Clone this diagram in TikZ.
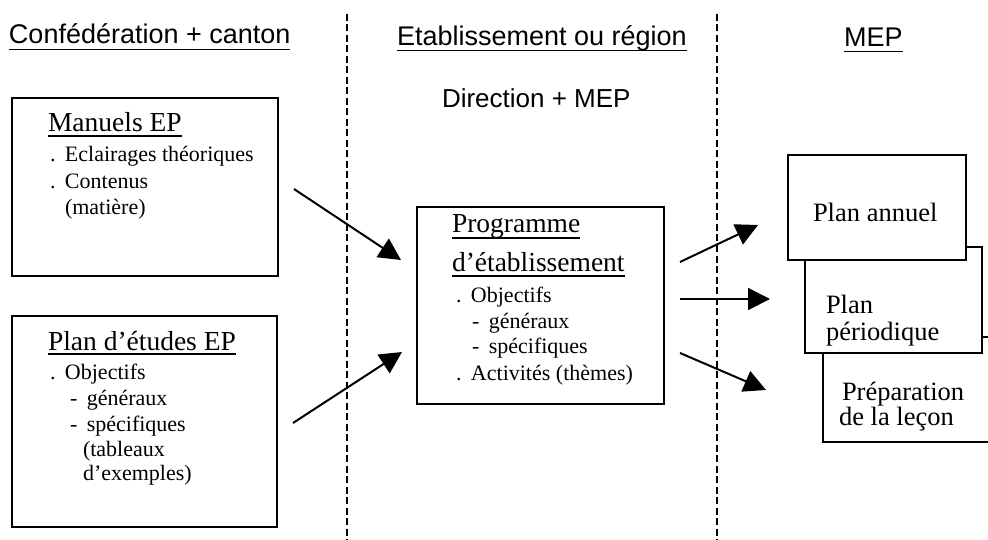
\documentclass[tikz,border=0pt]{standalone}
\usepackage{fontspec}
\setmainfont{Liberation Serif}
\newfontfamily\hsans{Liberation Sans}
\usetikzlibrary{arrows.meta}
\begin{document}
\begin{tikzpicture}[x=1pt,y=-1pt,
  box/.style={draw, line width=1.8pt, fill=white, inner sep=0pt, outer sep=0pt, rectangle},
  txt/.style={anchor=base west, inner sep=0pt, outer sep=0pt},
  head/.style={txt, font=\hsans\fontsize{27}{30}\selectfont},
  ttl/.style={txt, font=\fontsize{27.5}{30}\selectfont},
  bdy/.style={txt, font=\fontsize{22}{25}\selectfont},
  big/.style={txt, font=\fontsize{26.5}{30}\selectfont},
  uline/.style={line width=1.4pt},
  sepline/.style={line width=1.4pt, dash pattern=on 7pt off 3.5pt},
  arr/.style={line width=2pt, -{Triangle[length=22pt,width=22pt]}},
]
\useasboundingbox[fill=white] (0,0) rectangle (988,540);
\begin{scope}
\clip (0,0) rectangle (988,540);

% separators
\coordinate (s1t) at (347,14); \coordinate (s1b) at (347,540);
\coordinate (s2t) at (717,14); \coordinate (s2b) at (717,540);
\draw[sepline] (s1t) -- (s1b);
\draw[sepline] (s2t) -- (s2b);

% headers
\node[head] (h1) at (9,44) {Confédération + canton};
\node[head] (h2) at (397,45.5) {Etablissement ou région};
\node[head] (h3) at (844,46.5) {MEP};
\draw[uline] ([yshift=-5.5pt]h1.base west) -- ([yshift=-5.5pt]h1.base east);
\draw[uline] ([yshift=-5pt]h2.base west) -- ([yshift=-5pt]h2.base east);
\draw[uline] ([yshift=-5pt]h3.base west) -- ([yshift=-5pt]h3.base east);
\node[txt, font=\hsans\fontsize{26}{30}\selectfont] (dir) at (442,108) {Direction + MEP};

% left boxes
\node[box, minimum width=266pt, minimum height=178pt] (man) at (145,187) {};
\node[ttl] (manT) at (48,132) {Manuels EP};
\draw[uline] ([yshift=-4pt]manT.base west) -- ([yshift=-4pt]manT.base east);
\node[bdy] (man1) at (50,162) {.\hspace{9.5pt}Eclairages théoriques};
\node[bdy] (man2) at (50,189) {.\hspace{9.5pt}Contenus};
\node[bdy] (man3) at (65,215) {(matière)};

\node[box, minimum width=265pt, minimum height=211pt] (pe) at (144.5,421.5) {};
\node[ttl] (peT) at (48,350) {Plan d’études EP};
\draw[uline] ([yshift=-4pt]peT.base west) -- ([yshift=-4pt]peT.base east);
\node[bdy] (pe1) at (50,379) {.\hspace{9.5pt}Objectifs};
\node[bdy] (pe2) at (70,405) {-\hspace{9.5pt}généraux};
\node[bdy] (pe3) at (70,431) {-\hspace{9.5pt}spécifiques};
\node[bdy] (pe4) at (83,456) {(tableaux};
\node[bdy] (pe5) at (83,480) {d’exemples)};

% middle box
\node[box, minimum width=247pt, minimum height=197pt] (prog) at (540.5,305.5) {};
\node[ttl] (progT1) at (452,233) {Programme};
\node[ttl] (progT2) at (452,271) {d’établissement};
\draw[uline] ([yshift=-5pt]progT1.base west) -- ([yshift=-5pt]progT1.base east);
\draw[uline] ([yshift=-5pt]progT2.base west) -- ([yshift=-5pt]progT2.base east);
\node[bdy] (pr1) at (456,302) {.\hspace{9.5pt}Objectifs};
\node[bdy] (pr2) at (472,328) {-\hspace{9.5pt}généraux};
\node[bdy] (pr3) at (472,353) {-\hspace{9.5pt}spécifiques};
\node[bdy] (pr4) at (456,380) {.\hspace{9.5pt}Activités (thèmes)};

% right stacked boxes
\node[box, minimum width=187pt, minimum height=105pt] (prep) at (916.5,389.5) {};
\node[box, minimum width=177pt, minimum height=106pt] (peri) at (893.5,300) {};
\node[box, minimum width=178pt, minimum height=105pt] (ann) at (877,207.5) {};
\node[big] (annT) at (813,222) {Plan annuel};
\node[big] (periT1) at (826,313) {Plan};
\node[big] (periT2) at (826,340) {périodique};
\node[big] (prepT1) at (842,400) {Préparation};
\node[big] (prepT2) at (839,425) {de la leçon};

% arrows
\coordinate (a1s) at (294,189); \coordinate (a1e) at (401,260);
\coordinate (a2s) at (293,423); \coordinate (a2e) at (402,352);
\coordinate (a3s) at (680,262); \coordinate (a3e) at (758,225);
\coordinate (a4s) at (680,299); \coordinate (a4e) at (770,299);
\coordinate (a5s) at (680,353); \coordinate (a5e) at (766,390);
\draw[arr] (a1s) -- (a1e);
\draw[arr] (a2s) -- (a2e);
\draw[arr] (a3s) -- (a3e);
\draw[arr] (a4s) -- (a4e);
\draw[arr] (a5s) -- (a5e);
\end{scope}
\end{tikzpicture}
\end{document}
